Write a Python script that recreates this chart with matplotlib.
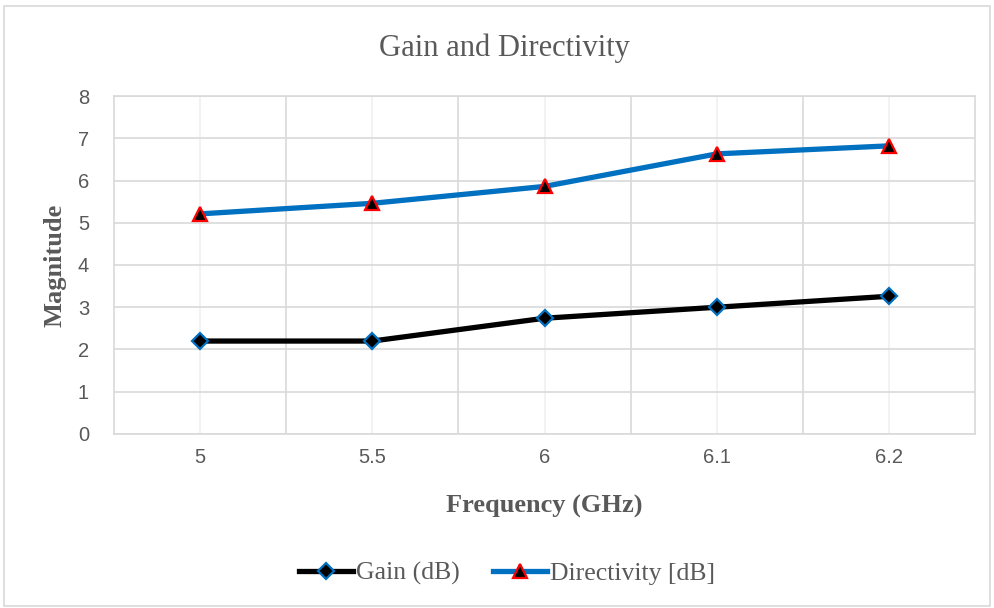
import matplotlib
matplotlib.use("Agg")
import matplotlib.pyplot as plt
from matplotlib.patches import Rectangle

# data
freq_labels = ["5", "5.5", "6", "6.1", "6.2"]
gain_db = [2.2, 2.2, 2.74, 3.0, 3.26]
directivity_db = [5.21, 5.46, 5.86, 6.63, 6.82]

GRAY_TEXT = "#595959"
GRID_DARK = "#d9d9d9"
GRID_LIGHT = "#f0f0f0"
BLUE = "#0070C0"

fig = plt.figure(figsize=(9.94, 6.08), dpi=100)
fig.patches.append(Rectangle((0.004, 0.004), 0.992, 0.986, transform=fig.transFigure,
                             fill=False, edgecolor=GRID_DARK, lw=1.2))
ax = fig.add_axes([0.1147, 0.2862, 0.8662, 0.5559])

x = list(range(len(freq_labels)))
ax.plot(x, gain_db, color="black", lw=3.8, marker="D", ms=8,
        mfc="black", mec=BLUE, mew=1.6, label="Gain (dB)", zorder=3)
ax.plot(x, directivity_db, color=BLUE, lw=3.8, marker="^", ms=9.5,
        mfc="black", mec="red", mew=1.6, label="Directivity [dB]", zorder=3)

ax.set_xlim(-0.5, len(freq_labels) - 0.5)
ax.set_ylim(0, 8)
ax.set_yticks(range(0, 9))
ax.set_xticks(x)
ax.set_xticklabels(freq_labels)
ax.set_xticks([i + 0.5 for i in x[:-1]], minor=True)

ax.grid(True, which="major", axis="y", color=GRID_DARK, lw=1.2)
ax.grid(True, which="major", axis="x", color=GRID_LIGHT, lw=1.2)
ax.grid(True, which="minor", axis="x", color=GRID_DARK, lw=1.2)
ax.set_axisbelow(True)
for s in ax.spines.values():
    s.set_color(GRID_DARK)
    s.set_linewidth(1.2)
ax.tick_params(which="both", length=0)
ax.tick_params(axis="both", labelsize=14.5, labelcolor=GRAY_TEXT)
ax.tick_params(axis="y", pad=18)
ax.tick_params(axis="x", pad=10)
for lbl in ax.get_xticklabels() + ax.get_yticklabels():
    lbl.set_family("Liberation Sans")

ax.set_xlabel("Frequency (GHz)", family="Liberation Serif", fontsize=19,
              fontweight="bold", color=GRAY_TEXT, labelpad=20)
ax.set_ylabel("Magnitude", family="Liberation Serif", fontsize=19,
              fontweight="bold", color=GRAY_TEXT, labelpad=8)
fig.text(0.507, 0.921, "Gain and Directivity", family="Liberation Serif",
         fontsize=22, color=GRAY_TEXT, ha="center", va="center")

leg = fig.legend(loc="center", bbox_to_anchor=(0.51, 0.057), ncol=2, frameon=False,
                 prop={"family": "Liberation Serif", "size": 18.5},
                 handlelength=2.1, handletextpad=0.1, columnspacing=1.3)
for t in leg.get_texts():
    t.set_color(GRAY_TEXT)

fig.savefig("out.png", dpi=100)
